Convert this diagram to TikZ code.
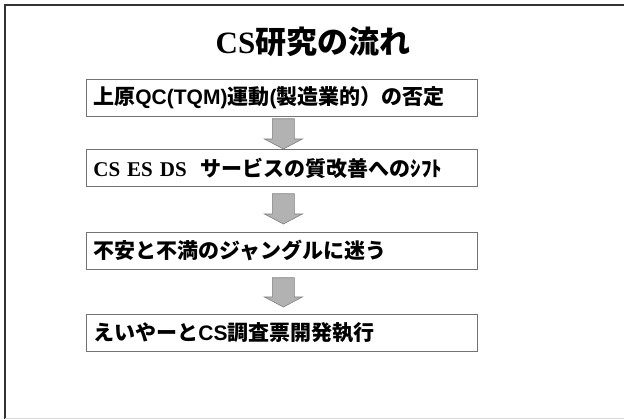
\documentclass[tikz,border=0pt]{standalone}
\usepackage{fontspec}
\setmainfont{Liberation Serif}
\newfontfamily\jp{Noto Sans CJK JP}
\newfontfamily\lsans{Liberation Sans}
\usetikzlibrary{calc}
\newcommand\blockarrow[4]{%
  \draw[blockarr] let \p1=(#1.south), \p2=(#2.north), \n1={\y1-#3}, \n2={\y2+#4} in
    (\x1-9.5pt,\n1) -- (\x1+12.5pt,\n1) -- (\x1+12.5pt,\n2+10pt) -- (\x1+20.5pt,\n2+10pt)
    -- (\x1+1.5pt,\n2) -- (\x1-17.5pt,\n2+10pt) -- (\x1-9.5pt,\n2+10pt) -- cycle;}
\begin{document}
\begin{tikzpicture}[x=1pt,y=1pt,
  stepbox/.style={draw=black!55, line width=0.8pt, anchor=north west,
    minimum width=391pt, minimum height=37pt, text width=377pt, inner xsep=7pt,
    align=left, font=\jp\bfseries\fontsize{21}{24}\selectfont},
  blockarr/.style={fill=black!30, draw=black!50, line width=0.6pt},
  titlefont/.style={font=\bfseries\fontsize{31}{36}\selectfont}]
\useasboundingbox (0,0) rectangle (624,419);
\fill[white] (0,0) rectangle (624,419);
% frame
\draw[black!80, line width=2pt] (5,0) -- (5,414) -- (624,414);
\draw[black!15, line width=0.8pt] (5,1) -- (624,1);
% title
\node[titlefont] (title) at (313,377) {CS{\jp 研究の流れ}};
% boxes
\node[stepbox] (b1) at (86,340) {上原{\lsans QC(TQM)}運動{\lsans (}製造業的）の否定};
\node[stepbox] (b2) at (86,270) {{\rmfamily CS ES DS}\hspace{14pt}サービスの質改善へのｼﾌﾄ};
\node[stepbox] (b3) at (86,187) {不安と不満のジャングルに迷う};
\node[stepbox] (b4) at (86,105) {えいやーと{\lsans CS}調査票開発執行};
% arrows
\blockarrow{b1}{b2}{2pt}{0pt}
\blockarrow{b2}{b3}{7pt}{8pt}
\blockarrow{b3}{b4}{8pt}{7pt}
\end{tikzpicture}
\end{document}
